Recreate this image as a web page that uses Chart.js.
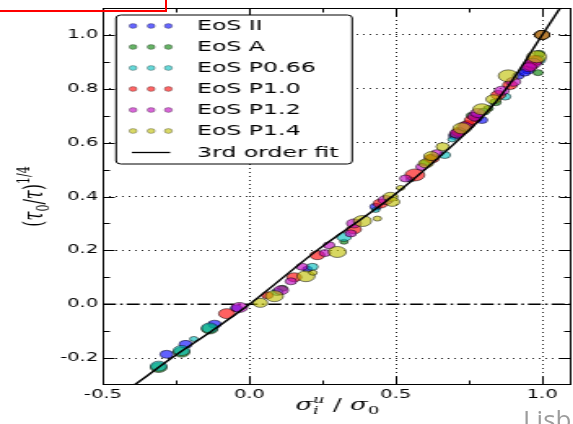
<!DOCTYPE html>
<html><head><meta charset="utf-8">
<script src="https://cdn.jsdelivr.net/npm/chart.js@4/dist/chart.umd.min.js"></script>
<style>
html,body{margin:0;padding:0;background:#fff;overflow:hidden;width:573px;height:424px;position:relative;}
#wrap{position:absolute;left:0;top:0;width:358px;height:424px;transform:scaleX(1.628);transform-origin:0 0;}
#red{position:absolute;left:-10px;top:-10px;width:176.5px;height:21.5px;box-sizing:border-box;border:2.5px solid #ff0000;}
#lisb{position:absolute;left:523px;top:406px;font:26px/26px "Open Sans";color:#9c9c9c;white-space:nowrap;}
</style></head>
<body>
<div id="wrap"><canvas id="c" width="358" height="424"></canvas></div>
<div id="red"></div>
<div id="lisb">Lisb</div>
<script>
const categories = ['EoS II','EoS A','EoS P0.66','EoS P1.0','EoS P1.2','EoS P1.4'];
const fitLabel = '3rd order fit';
const xTicks = [-0.5, 0.0, 0.5, 1.0];
const yTicks = [-0.2, 0.0, 0.2, 0.4, 0.6, 0.8, 1.0];
const xMinor = [-0.25, 0.25, 0.75];
const yMinor = [-0.1, 0.1, 0.3, 0.5, 0.7, 0.9];

// EoS II (blue)
const eosIIx = [-0.283,-0.218,-0.119,-0.045,0.198,0.431,0.720,0.794,0.918,0.952,0.940,0.775,0.700,1.0];
const eosIIy = [-0.186,-0.149,-0.074,-0.015,0.130,0.362,0.640,0.684,0.848,0.870,0.860,0.690,0.625,1.0];
const eosIIr = [4,4,4,3.5,3,3.5,3.5,3.5,3.5,4,3.5,3.5,3.5,4.5];
// EoS A (green)
const eosAx = [-0.310,-0.232,-0.136,0.113,0.323,0.620,0.700,0.816,0.840,0.986,0.990,0.600,0.760,1.0];
const eosAy = [-0.235,-0.178,-0.092,0.059,0.232,0.545,0.630,0.727,0.750,0.860,0.930,0.525,0.700,1.0];
const eosAr = [5,5,5,3,2.5,3,3,3,3.5,3,3.5,3,3.5,4.5];
// EoS P0.66 (cyan)
const eosP066x = [-0.310,-0.232,-0.190,-0.136,0.095,0.215,0.323,0.431,0.550,0.667,0.692,0.873,0.986,0.800,1.0];
const eosP066y = [-0.230,-0.172,-0.129,-0.088,0.045,0.139,0.250,0.350,0.463,0.554,0.612,0.771,0.907,0.715,1.0];
const eosP066r = [5,5,2.5,5,3.5,3.5,4.5,2.5,2.5,3.5,2.5,3.5,4.5,3.5,4.5];
// EoS P1.0 (red)
const eosP10x = [-0.077,0.061,0.153,0.232,0.357,0.448,0.565,0.623,0.743,0.760,0.850,0.890,0.975,0.715,0.960,1.0];
const eosP10y = [-0.035,0.033,0.100,0.182,0.278,0.374,0.480,0.541,0.665,0.684,0.777,0.814,0.905,0.640,0.885,1.0];
const eosP10r = [5,3.5,4.5,4.5,4.5,4.5,6,4.5,4.5,4.5,4.5,4.5,5,4.5,4.5,4.5];
// EoS P1.2 (magenta)
const eosP12x = [-0.034,0.108,0.142,0.180,0.258,0.272,0.346,0.357,0.465,0.533,0.588,0.640,0.709,0.771,0.780,0.862,0.901,0.969,0.735,0.955,1.0];
const eosP12y = [-0.012,0.052,0.085,0.139,0.190,0.219,0.263,0.300,0.387,0.467,0.510,0.561,0.634,0.697,0.710,0.793,0.826,0.895,0.660,0.880,1.0];
const eosP12r = [5,4.5,3.5,3.5,3.5,3.5,3.5,4.5,4.5,3.5,3.5,3.5,4.5,4.5,4.5,4.5,4.5,5,4.5,4.5,4.5];
// EoS P1.4 (yellow)
const eosP14x = [0.037,0.085,0.193,0.217,0.300,0.386,0.437,0.482,0.488,0.516,0.603,0.621,0.726,0.794,0.833,0.884,0.981,0.660,1.0];
const eosP14y = [0.005,0.030,0.104,0.117,0.194,0.309,0.318,0.399,0.380,0.432,0.523,0.550,0.653,0.724,0.761,0.848,0.919,0.585,1.0];
const eosP14r = [4.5,5.5,5.5,2.5,5.5,5.5,2.5,4.5,4.5,2.5,4.5,4.5,5.5,5.5,4.5,6,6,4,4.5];

// 3rd order fit
const fitX = [-0.45,-0.40,-0.266,-0.13,0.0,0.231,0.488,0.675,0.80,0.884,1.0,1.08];
const fitY = [-0.34,-0.305,-0.20,-0.10,0.0,0.20,0.40,0.572,0.70,0.81,1.0,1.13];
// dash-dot reference line
const zeroX = [-0.5, 1.1];
const zeroY = [0.0, 0.0];

const colors = ['0,0,255','0,128,0','0,191,191','255,0,0','191,0,191','191,191,0'];
const series = [[eosIIx,eosIIy,eosIIr],[eosAx,eosAy,eosAr],[eosP066x,eosP066y,eosP066r],
                [eosP10x,eosP10y,eosP10r],[eosP12x,eosP12y,eosP12r],[eosP14x,eosP14y,eosP14r]];

const datasets = [];
datasets.push({label: fitLabel, data: fitX.map((x,i)=>({x, y: fitY[i]})), showLine: true,
  borderColor: '#000', borderWidth: 1.5, pointRadius: 0, cubicInterpolationMode: 'monotone', order: 0});
series.forEach((s,k)=>{
  datasets.push({label: categories[k], data: s[0].map((x,i)=>({x, y: s[1][i]})),
    pointRadius: s[2], pointHoverRadius: s[2],
    backgroundColor: `rgba(${colors[k]},0.62)`, borderColor: 'rgba(0,0,0,0.5)', borderWidth: 1, order: 6 - k});
});
datasets.push({label: 'zero', data: zeroX.map((x,i)=>({x, y: zeroY[i]})), showLine: true,
  borderColor: '#000', borderWidth: 1.4, borderDash: [8,2.5,1.5,2.5], pointRadius: 0, order: 10});

function runsWidth(ctx, runs){
  let x = 0, hold = 0;
  for (const r of runs){ ctx.font = r.font; const w = ctx.measureText(r.t).width;
    if (r.hold){ hold = w; } else { x += Math.max(w, hold); hold = 0; } }
  return x;
}
function drawRuns(ctx, runs, x0, y0){
  let x = x0, hold = 0;
  for (const r of runs){ ctx.font = r.font; ctx.fillText(r.t, x, y0 + (r.dy || 0));
    const w = ctx.measureText(r.t).width;
    if (r.hold){ hold = w; } else { x += Math.max(w, hold); hold = 0; } }
}
const MI = 'italic 16px "DejaVu Serif"', MU = '16px "DejaVu Serif"', SI = 'italic 11px "DejaVu Serif"', SU = '11px "DejaVu Serif"';
const xTitle = [{t:'σ',font:MI},{t:'i',font:SI,dy:4,hold:true},{t:'u',font:SI,dy:-7},{t:' / ',font:MU},{t:'σ',font:MI},{t:'0',font:SU,dy:4}];
const yTitle = [{t:'(',font:MU},{t:'τ',font:MI},{t:'0',font:SU,dy:4},{t:'/',font:MU},{t:'τ',font:MI},{t:')',font:MU},{t:'1/4',font:SU,dy:-8}];

const decor = {
  id: 'decor',
  afterDraw(chart){
    const {ctx, chartArea: a, scales: {x, y}} = chart;
    ctx.save();
    ctx.strokeStyle = '#000'; ctx.lineWidth = 1;
    const L = Math.round(a.left)+0.5, R = Math.round(a.right)-0.5, T = Math.round(a.top)+0.5, B = Math.round(a.bottom)-0.5;
    ctx.beginPath();
    const tk = (vals, len) => {
      vals.forEach(v => {
        const px = Math.round(x.getPixelForValue(v)) + 0.5;
        ctx.moveTo(px, B); ctx.lineTo(px, B - len);
        ctx.moveTo(px, T); ctx.lineTo(px, T + len);
      });
    };
    const tky = (vals, len) => {
      vals.forEach(v => {
        const py = Math.round(y.getPixelForValue(v)) + 0.5;
        ctx.moveTo(L, py); ctx.lineTo(L + len, py);
        ctx.moveTo(R, py); ctx.lineTo(R - len, py);
      });
    };
    tk(xTicks, 8); tk(xMinor, 4); tky(yTicks, 7); tky(yMinor, 4);
    ctx.stroke();
    ctx.strokeRect(L, T, R - L, B - T);

    // legend
    const bx = 71.3, by = 15, bw = 145, bh = 149, rr = 3;
    ctx.beginPath();
    ctx.moveTo(bx + rr, by); ctx.lineTo(bx + bw - rr, by); ctx.quadraticCurveTo(bx + bw, by, bx + bw, by + rr);
    ctx.lineTo(bx + bw, by + bh - rr); ctx.quadraticCurveTo(bx + bw, by + bh, bx + bw - rr, by + bh);
    ctx.lineTo(bx + rr, by + bh); ctx.quadraticCurveTo(bx, by + bh, bx, by + bh - rr);
    ctx.lineTo(bx, by + rr); ctx.quadraticCurveTo(bx, by, bx + rr, by);
    ctx.closePath();
    ctx.fillStyle = '#fff'; ctx.fill();
    ctx.strokeStyle = '#000'; ctx.lineWidth = 1; ctx.stroke();
    ctx.font = '14.5px "DejaVu Sans"'; ctx.textBaseline = 'middle'; ctx.textAlign = 'left';
    const rows = [26, 47, 68, 89, 110, 131, 152.5];
    categories.forEach((name, k) => {
      const yy = rows[k];
      [81.7, 92.8, 103.4].forEach(cx => {
        ctx.beginPath(); ctx.arc(cx, yy, 2.4, 0, Math.PI * 2);
        ctx.fillStyle = `rgba(${colors[k]},0.6)`; ctx.fill();
        ctx.strokeStyle = 'rgba(0,0,0,0.35)'; ctx.lineWidth = 0.8; ctx.stroke();
      });
      ctx.fillStyle = '#000'; ctx.fillText(name, 121, yy + 0.5);
    });
    ctx.beginPath(); ctx.moveTo(81, rows[6]); ctx.lineTo(104.5, rows[6]);
    ctx.strokeStyle = '#000'; ctx.lineWidth = 1.3; ctx.stroke();
    ctx.fillStyle = '#000'; ctx.fillText(fitLabel, 121, rows[6] + 0.5);

    // axis titles
    ctx.textBaseline = 'alphabetic'; ctx.fillStyle = '#000';
    const cx = (a.left + a.right) / 2;
    const wx = runsWidth(ctx, xTitle);
    drawRuns(ctx, xTitle, cx - wx / 2, 410);
    const wy = runsWidth(ctx, yTitle);
    ctx.translate(26, (a.top + a.bottom) / 2);
    ctx.rotate(-Math.PI / 2);
    drawRuns(ctx, yTitle, -wy / 2, 0);
    ctx.restore();
  }
};

const gridColor = (ctx) => (ctx.tick && Math.abs(ctx.tick.value) < 1e-9 && ctx.scale.axis === 'y') ? 'rgba(0,0,0,0)' : 'rgba(0,0,0,0.85)';
const noPad = s => { s.paddingLeft = 0; s.paddingRight = 0; s.paddingTop = 0; s.paddingBottom = 0; };

new Chart(document.getElementById('c'), {
  type: 'scatter',
  data: { datasets },
  options: {
    responsive: false, devicePixelRatio: 1, animation: false,
    layout: { padding: { left: 0, right: 0, top: 8, bottom: 0 } },
    plugins: { legend: { display: false }, tooltip: { enabled: false }, title: { display: false } },
    scales: {
      x: { type: 'linear', min: -0.5, max: 1.1,
        afterBuildTicks: s => { s.ticks = xTicks.map(v => ({ value: v })); },
        afterFit: s => { s.height = 39; noPad(s); },
        ticks: { callback: v => Number(v).toFixed(1), font: { family: 'DejaVu Sans', size: 12 }, color: '#000', padding: 3, maxRotation: 0, autoSkip: false },
        grid: { drawTicks: false, color: gridColor, lineWidth: 1 },
        border: { display: false, dash: [1, 3] } },
      y: { type: 'linear', min: -0.3, max: 1.1,
        afterBuildTicks: s => { s.ticks = yTicks.map(v => ({ value: v })); },
        afterFit: s => { s.width = 63.3; noPad(s); },
        ticks: { callback: v => Number(v).toFixed(1), font: { family: 'DejaVu Sans', size: 12 }, color: '#000', padding: 3, autoSkip: false },
        grid: { drawTicks: false, color: gridColor, lineWidth: 1 },
        border: { display: false, dash: [1, 3] } }
    }
  },
  plugins: [decor]
});
</script>
</body></html>
